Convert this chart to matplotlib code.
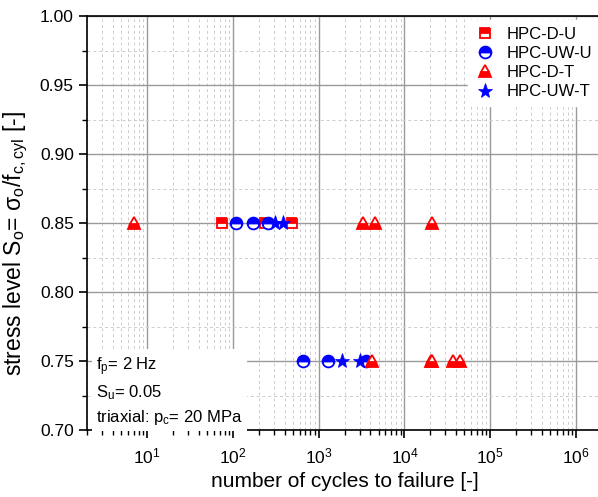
import numpy as np
import matplotlib
matplotlib.use('Agg')
import matplotlib.pyplot as plt
from matplotlib.ticker import MultipleLocator, LogLocator

plt.rcParams['font.family'] = ['Liberation Sans', 'DejaVu Sans']
plt.rcParams['mathtext.fontset'] = 'custom'
plt.rcParams['mathtext.rm'] = 'Liberation Sans'
plt.rcParams['mathtext.it'] = 'Liberation Sans:italic'

# cycles to failure
du_n = [74, 236, 490]
du_s = [0.85, 0.85, 0.85]
uwu_n = [108, 171, 256, 662, 1300, 3530]
uwu_s = [0.85, 0.85, 0.85, 0.75, 0.75, 0.75]
dt_n = [7, 3250, 4480, 21000, 4150, 20100, 21000, 37000, 44200]
dt_s = [0.85, 0.85, 0.85, 0.85, 0.75, 0.75, 0.75, 0.75, 0.75]
uwt_n = [310, 382, 1850, 3030]
uwt_s = [0.85, 0.85, 0.75, 0.75]

labels = ['HPC-D-U', 'HPC-UW-U', 'HPC-D-T', 'HPC-UW-T']

fig = plt.figure(figsize=(5.98, 4.97), dpi=100)
ax = fig.add_axes([87 / 598, 1 - 430 / 497, 515 / 598, 414 / 497])

# series
ax.plot(du_n, du_s, ls='none', marker='s', ms=7, color='red', mfc='red',
        mfcalt='white', fillstyle='top', mew=1.3, label=labels[0], zorder=3)
ax.plot(uwu_n, uwu_s, ls='none', marker='o', ms=8.5, color='blue', mfc='blue',
        mfcalt='white', fillstyle='top', mew=1.3, label=labels[1], zorder=3)
ax.plot(dt_n, dt_s, ls='none', marker='^', ms=9, color='red', mfc='red',
        mfcalt='white', fillstyle='bottom', mew=1.3, label=labels[2], zorder=3)
ax.plot(uwt_n, uwt_s, ls='none', marker='*', ms=11, color='blue',
        mew=0.5, label=labels[3], zorder=3)

ax.set_xscale('log')
ax.set_xlim(2, 2e6)
ax.set_ylim(0.70, 1.00)
ax.yaxis.set_major_locator(MultipleLocator(0.05))
ax.yaxis.set_minor_locator(MultipleLocator(0.025))
ax.yaxis.set_major_formatter(matplotlib.ticker.FormatStrFormatter('%.2f'))
ax.xaxis.set_major_locator(LogLocator(base=10, numticks=10))
ax.xaxis.set_minor_locator(LogLocator(base=10, subs=np.arange(2, 10), numticks=20))
ax.xaxis.set_minor_formatter(matplotlib.ticker.NullFormatter())

ax.grid(which='major', color='#9a9a9a', lw=1.0, ls='-')
ax.grid(which='minor', color='#cccccc', lw=0.7, ls=(0, (3, 3)))
ax.set_axisbelow(True)

for s in ['left', 'bottom', 'top']:
    ax.spines[s].set_linewidth(1.2)
ax.spines['right'].set_visible(False)
ax.tick_params(which='major', direction='out', length=6, width=1.2,
               labelsize=12.5, top=False, right=False)
ax.tick_params(which='minor', direction='out', length=3.5, width=1.0,
               top=False, right=False)
ax.tick_params(axis='x', pad=6)

ax.set_xlabel('number of cycles to failure [-]', fontsize=15)
ax.set_ylabel(r'stress level S$_\mathregular{o}$= σ$_\mathregular{o}$/f$_\mathregular{c,cyl}$ [-]',
              fontsize=16.5)
ax.yaxis.set_label_coords(-0.11, 0.45)

leg = ax.legend(loc='upper right', bbox_to_anchor=(1.01, 1.01), frameon=True,
                fontsize=12, handletextpad=0.7, labelspacing=0.25,
                borderpad=0.4, handlelength=1.2)
leg.get_frame().set_facecolor('white')
leg.get_frame().set_edgecolor('white')
leg.get_frame().set_alpha(1)

ax.text(0.018, 0.008,
        'f$_\\mathregular{p}$= 2 Hz\nS$_\\mathregular{u}$= 0.05\ntriaxial: p$_\\mathregular{c}$= 20 MPa',
        transform=ax.transAxes, fontsize=12, va='bottom', ha='left',
        linespacing=1.38,
        bbox=dict(facecolor='white', edgecolor='none', pad=3))

fig.savefig('out.png', dpi=100)
